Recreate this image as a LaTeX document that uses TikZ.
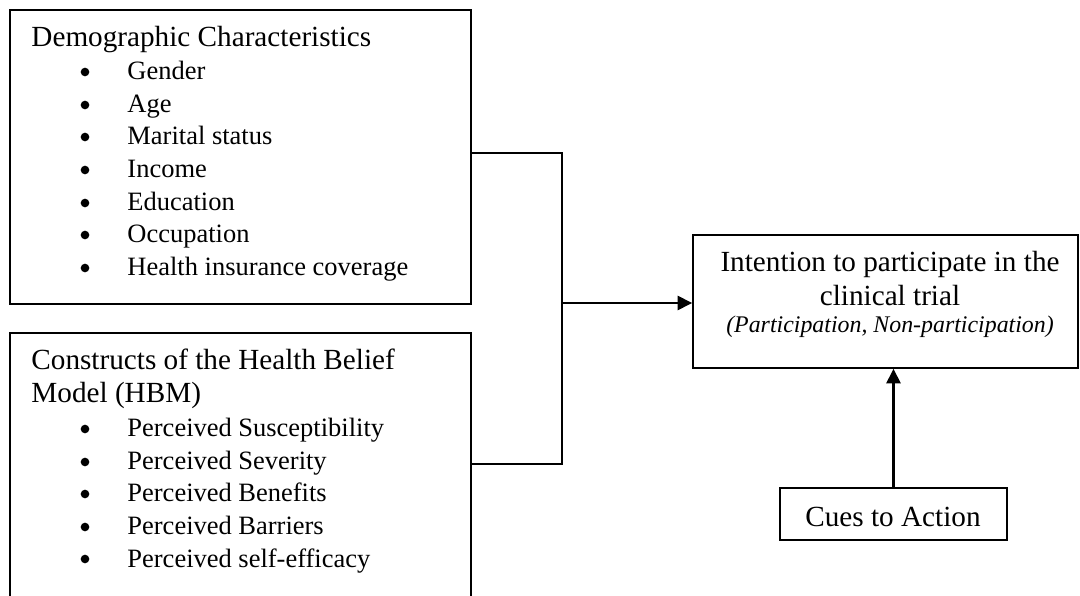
\documentclass[tikz,border=0pt]{standalone}
\usepackage{fontspec}
\setmainfont{Liberation Serif}
\usetikzlibrary{fit,arrows.meta}
\begin{document}
\begin{tikzpicture}[x=0.44pt,y=-0.44pt,
  box/.style={draw,line width=0.7pt,inner sep=0pt},
  conn/.style={line width=0.95pt},
  arr/.style={conn,-{Triangle[length=6.4pt,width=6.2pt]}},
  htxt/.style={anchor=base west,inner sep=0pt,font=\fontsize{12.85}{15}\selectfont},
  txt/.style={anchor=base west,inner sep=0pt,font=\fontsize{11.65}{14}\selectfont},
  bul/.style={circle,fill,inner sep=0pt,minimum size=3.8pt},
  ctxt/.style={anchor=base,inner sep=0pt,font=\fontsize{12.85}{15}\selectfont},
  itxt/.style={anchor=base,inner sep=0pt,font=\fontsize{10.5}{12}\selectfont\itshape}]
\useasboundingbox (0,0) rectangle (1080,596);
\clip (0,0) rectangle (1080,596);
% boxes
\node[box,fit={(10,10) (471,304)}] (demo) {};
\node[box,fit={(10,333) (471,620)}] (hbm) {};
\node[box,fit={(693,235) (1078,368)}] (intent) {};
\node[box,fit={(780,488) (1007,540)}] (cues) {};
% box 1 text
\node[htxt] (d0) at (31,47) {Demographic Characteristics};
\foreach \y/\t [count=\i] in {80/Gender,113/Age,145/Marital status,178/Income,211/Education,243/Occupation,276/Health insurance coverage}{
  \node[bul] (db\i) at (85,\y-8) {};
  \node[txt] (dt\i) at (127,\y) {\t};
}
% box 2 text
\node[htxt] (h0) at (31,370) {Constructs of the Health Belief};
\node[htxt] (h1) at (31,403) {Model (HBM)};
\foreach \y/\t [count=\i] in {437/Perceived Susceptibility,470/Perceived Severity,502/Perceived Benefits,535/Perceived Barriers,567/Perceived self-efficacy}{
  \node[bul] (hb\i) at (85,\y-8) {};
  \node[txt] (ht\i) at (127,\y) {\t};
}
% box 3 text
\node[ctxt] (i1) at (890,272) {Intention to participate in the};
\node[ctxt] (i2) at (890,306) {clinical trial};
\node[itxt] (i3) at (890,333) {(Participation, Non-participation)};
% cues text
\node[ctxt] (c1) at (893,526) {Cues to Action};
% connectors
\coordinate (j1) at (562,153);
\coordinate (j2) at (562,464);
\coordinate (jm) at (562,303);
\draw[conn] (demo.east |- j1) -- (j1) -- (j2) -- (hbm.east |- j2);
\draw[arr] (jm) -- (intent.west |- jm);
\draw[arr] (cues.north) -- (cues.north |- intent.south);
\end{tikzpicture}
\end{document}
